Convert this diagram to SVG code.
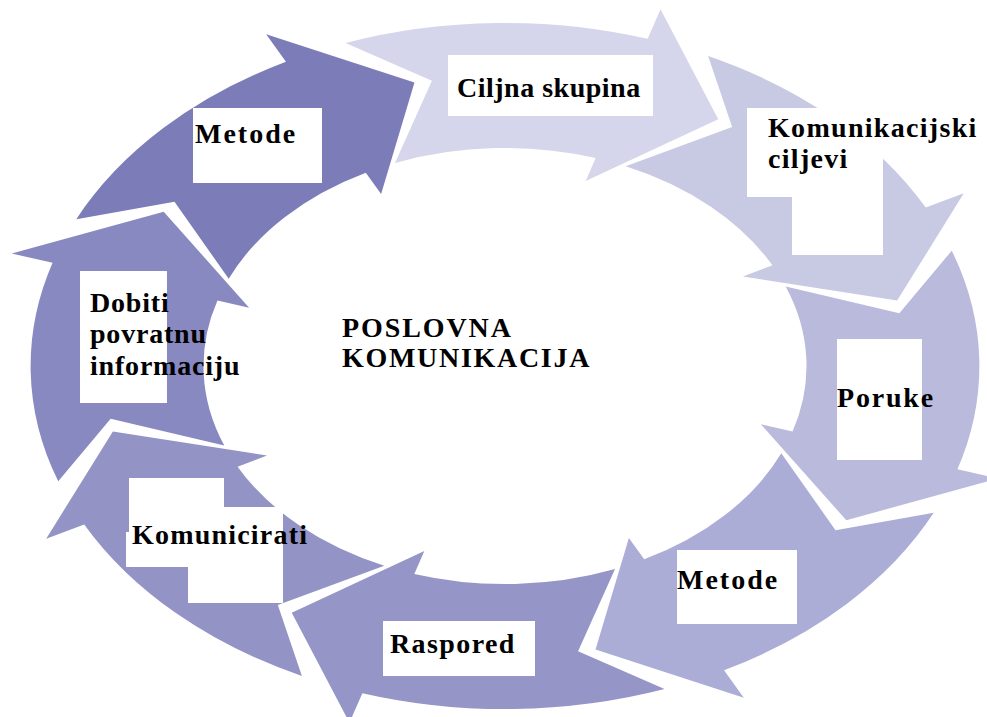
<svg xmlns="http://www.w3.org/2000/svg" xmlns:xlink="http://www.w3.org/1999/xlink" width="987" height="717" viewBox="0 0 987 717">
  <style>
    .lbl { font-family: "Liberation Serif", "Times New Roman", serif; font-weight: bold; font-size: 28px; fill: #000; }
    .box { fill: #ffffff; }
  </style>
  <defs>
    <path id="arc-arrow" d="M212.82,-269 A343,343 0 0 1 332.08,-85.88 L362.09,-93.64 L291,0 L187.82,-48.57 L211.06,-54.58 A218,218 0 0 0 129.98,-175.02 L213.81,-195.92 Z"/>
  </defs>
  <rect width="987" height="717" fill="#ffffff"/>
  <g id="connectors">
    <use xlink:href="#arc-arrow" href="#arc-arrow" fill="#7b7cb8" transform="translate(505 366) scale(1.383 1) rotate(-103)"/>
    <use xlink:href="#arc-arrow" href="#arc-arrow" fill="#d5d6eb" transform="translate(505 366) scale(1.383 1) rotate(-58)"/>
    <use xlink:href="#arc-arrow" href="#arc-arrow" fill="#c8c9e3" transform="translate(505 366) scale(1.383 1) rotate(-13)"/>
    <use xlink:href="#arc-arrow" href="#arc-arrow" fill="#b9badc" transform="translate(505 366) scale(1.383 1) rotate(32)"/>
    <use xlink:href="#arc-arrow" href="#arc-arrow" fill="#acadd6" transform="translate(505 366) scale(1.383 1) rotate(77)"/>
    <use xlink:href="#arc-arrow" href="#arc-arrow" fill="#9596c7" transform="translate(505 366) scale(1.383 1) rotate(122)"/>
    <use xlink:href="#arc-arrow" href="#arc-arrow" fill="#9394c5" transform="translate(505 366) scale(1.383 1) rotate(167)"/>
    <use xlink:href="#arc-arrow" href="#arc-arrow" fill="#8889c0" transform="translate(505 366) scale(1.383 1) rotate(212)"/>
  </g>
  <g id="node-metode-1">
    <rect class="box" x="193" y="108" width="129" height="75"/>
    <text class="lbl" x="195" y="143" style="letter-spacing:2px">Metode</text>
  </g>
  <g id="node-ciljna-skupina">
    <rect class="box" x="448" y="55" width="205" height="61"/>
    <text class="lbl" x="457" y="97" style="letter-spacing:0.5px">Ciljna skupina</text>
  </g>
  <g id="node-komunikacijski-ciljevi">
    <polygon class="box" points="747,108 883,108 883,255 792,255 792,197 747,197"/>
    <text class="lbl" x="768" y="137" style="letter-spacing:1.3px">Komunikacijski</text>
    <text class="lbl" x="768" y="168" style="letter-spacing:1.3px">ciljevi</text>
  </g>
  <g id="node-poruke">
    <rect class="box" x="837" y="339" width="85" height="121"/>
    <text class="lbl" x="837" y="407" style="letter-spacing:1.8px">Poruke</text>
  </g>
  <g id="node-metode-2">
    <rect class="box" x="677" y="550" width="120" height="74"/>
    <text class="lbl" x="677" y="589" style="letter-spacing:2px">Metode</text>
  </g>
  <g id="node-raspored">
    <rect class="box" x="383" y="621" width="152" height="55"/>
    <text class="lbl" x="390" y="653" style="letter-spacing:1.4px">Raspored</text>
  </g>
  <g id="node-komunicirati">
    <polygon class="box" points="129,478 224,478 224,507 283,507 283,603 188,603 188,567 126,567 126,532 129,532"/>
    <text class="lbl" x="132" y="544" style="letter-spacing:1.2px">Komunicirati</text>
  </g>
  <g id="node-dobiti">
    <rect class="box" x="80" y="271" width="87" height="132"/>
    <text class="lbl" x="90" y="312" style="letter-spacing:0.8px">Dobiti</text>
    <text class="lbl" x="90" y="343" style="letter-spacing:0.8px">povratnu</text>
    <text class="lbl" x="90" y="375" style="letter-spacing:0.8px">informaciju</text>
  </g>
  <g id="node-center">
    <text class="lbl" x="342" y="337" style="letter-spacing:1.9px">POSLOVNA</text>
    <text class="lbl" x="342" y="367" style="letter-spacing:1.7px">KOMUNIKACIJA</text>
  </g>
</svg>
